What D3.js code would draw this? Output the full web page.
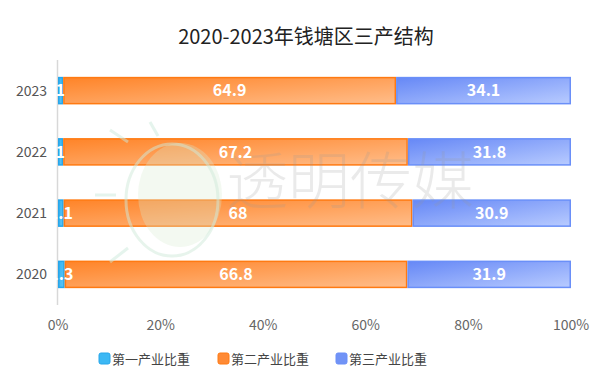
<!DOCTYPE html>
<html>
<head>
<meta charset="utf-8">
<script src="https://cdn.jsdelivr.net/npm/d3@7"></script>
<style>
  body { margin: 0; background: #fff; }
  text { font-family: "Noto Sans CJK SC", "Noto Sans", sans-serif; }
</style>
</head>
<body>
<svg width="600" height="387"></svg>
<script>
var years = ["2023", "2022", "2021", "2020"];
var primary = [1, 1, 1.1, 1.3];
var secondary = [64.9, 67.2, 68, 66.8];
var tertiary = [34.1, 31.8, 30.9, 31.9];
var seriesNames = ["第一产业比重", "第二产业比重", "第三产业比重"];
var xTicks = [0, 20, 40, 60, 80, 100];

var svg = d3.select("svg");
var mLeft = 58, mRight = 571, mTop = 60, mBottom = 305;

var x = d3.scaleLinear().domain([0, 100]).range([mLeft, mRight]);
var y = d3.scaleBand().domain(years).range([mTop, mBottom]).paddingInner(0.55).paddingOuter(0.275);

// gradients
var defs = svg.append("defs");
var grads = [
  { id: "g1", c0: "#36b4f2", c1: "#5cc4f5" },
  { id: "g2", c0: "#ff8428", c1: "#ffbd8a" },
  { id: "g3", c0: "#6688f6", c1: "#b8cbff" }
];
grads.forEach(function(g) {
  var lg = defs.append("linearGradient").attr("id", g.id)
    .attr("x1", 0).attr("y1", 0).attr("x2", 1).attr("y2", 1);
  lg.append("stop").attr("offset", "0%").attr("stop-color", g.c0);
  lg.append("stop").attr("offset", "100%").attr("stop-color", g.c1);
});
var strokes = ["#27a6ea", "#ff7a12", "#6a8ff8"];
var legendFill = ["#3cb8f4", "#ff8a35", "#7193f6"];

// title
svg.append("text")
  .attr("x", 306).attr("y", 44)
  .attr("text-anchor", "middle")
  .style("font-size", "20px")
  .style("fill", "#222")
  .text("2020-2023年钱塘区三产结构");

// y axis line
svg.append("line")
  .attr("x1", mLeft - 0.5).attr("x2", mLeft - 0.5)
  .attr("y1", mTop).attr("y2", mBottom)
  .attr("stroke", "#d8d8d8").attr("stroke-width", 1.5);

// y labels
svg.append("g").selectAll("text")
  .data(years).enter().append("text")
  .attr("x", mLeft - 11)
  .attr("y", function(d) { return y(d) + y.bandwidth() / 2; })
  .attr("dy", "0.35em")
  .attr("text-anchor", "end")
  .style("font-size", "14px")
  .style("fill", "#555")
  .text(function(d) { return d; });

// x tick labels
svg.append("g").selectAll("text")
  .data(xTicks).enter().append("text")
  .attr("x", function(d) { return x(d); })
  .attr("y", 330)
  .attr("text-anchor", "middle")
  .style("font-size", "14px")
  .style("fill", "#666")
  .text(function(d) { return d + "%"; });

// stacked bars
var series = [primary, secondary, tertiary];
var rows = years.map(function(yr, i) {
  var acc = 0;
  return series.map(function(s, k) {
    var seg = { year: yr, k: k, v: s[i], x0: acc, x1: acc + s[i] };
    acc += s[i];
    return seg;
  });
});
var segs = [].concat.apply([], rows);

svg.append("g").selectAll("rect")
  .data(segs).enter().append("rect")
  .attr("x", function(d) { return x(d.x0) + 0.75; })
  .attr("y", function(d) { return y(d.year) + 0.75; })
  .attr("width", function(d) { return Math.max(0, x(d.x1) - x(d.x0) - 1.5); })
  .attr("height", y.bandwidth() - 1.5)
  .attr("fill", function(d) { return "url(#" + grads[d.k].id + ")"; })
  .attr("stroke", function(d) { return strokes[d.k]; })
  .attr("stroke-width", 1.5);

// watermark
var wm = svg.append("g").style("pointer-events", "none");
wm.append("ellipse").attr("cx", 180).attr("cy", 195).attr("rx", 42).attr("ry", 52)
  .attr("fill", "#d6ecd0").attr("opacity", 0.3);
wm.append("ellipse").attr("cx", 172).attr("cy", 200).attr("rx", 46).attr("ry", 56)
  .attr("fill", "none").attr("stroke", "#cfe9d9").attr("stroke-width", 3).attr("opacity", 0.5);
[[110, 130, 128, 142], [95, 195, 116, 195], [110, 262, 128, 248], [150, 122, 158, 136]].forEach(function(l) {
  wm.append("line").attr("x1", l[0]).attr("y1", l[1]).attr("x2", l[2]).attr("y2", l[3])
    .attr("stroke", "#cdebdc").attr("stroke-width", 3).attr("opacity", 0.5);
});
wm.append("text")
  .attr("x", 226).attr("y", 204)
  .style("font-size", "62px")
  .style("font-weight", "300")
  .style("fill", "#999")
  .style("opacity", 0.2)
  .text("透明传媒");

// value labels
svg.append("g").selectAll("text")
  .data(segs).enter().append("text")
  .attr("x", function(d) { return (x(d.x0) + x(d.x1)) / 2; })
  .attr("y", function(d) { return y(d.year) + y.bandwidth() / 2; })
  .attr("dy", "0.36em")
  .attr("text-anchor", "middle")
  .style("font-size", "16px")
  .style("font-weight", "bold")
  .style("fill", "#fff")
  .text(function(d) { return d.v; });

// legend
var legendX = [99, 218, 336];
var lg = svg.append("g").selectAll("g")
  .data(seriesNames).enter().append("g")
  .attr("transform", function(d, i) { return "translate(" + legendX[i] + ",359)"; });
lg.append("rect")
  .attr("x", 0).attr("y", -6).attr("width", 11).attr("height", 11).attr("rx", 2)
  .attr("fill", function(d, i) { return legendFill[i]; })
  .attr("stroke", function(d, i) { return strokes[i]; });
lg.append("text")
  .attr("x", 13).attr("y", 0).attr("dy", "0.36em")
  .style("font-size", "13px")
  .style("fill", "#444")
  .text(function(d) { return d; });
</script>
</body>
</html>
